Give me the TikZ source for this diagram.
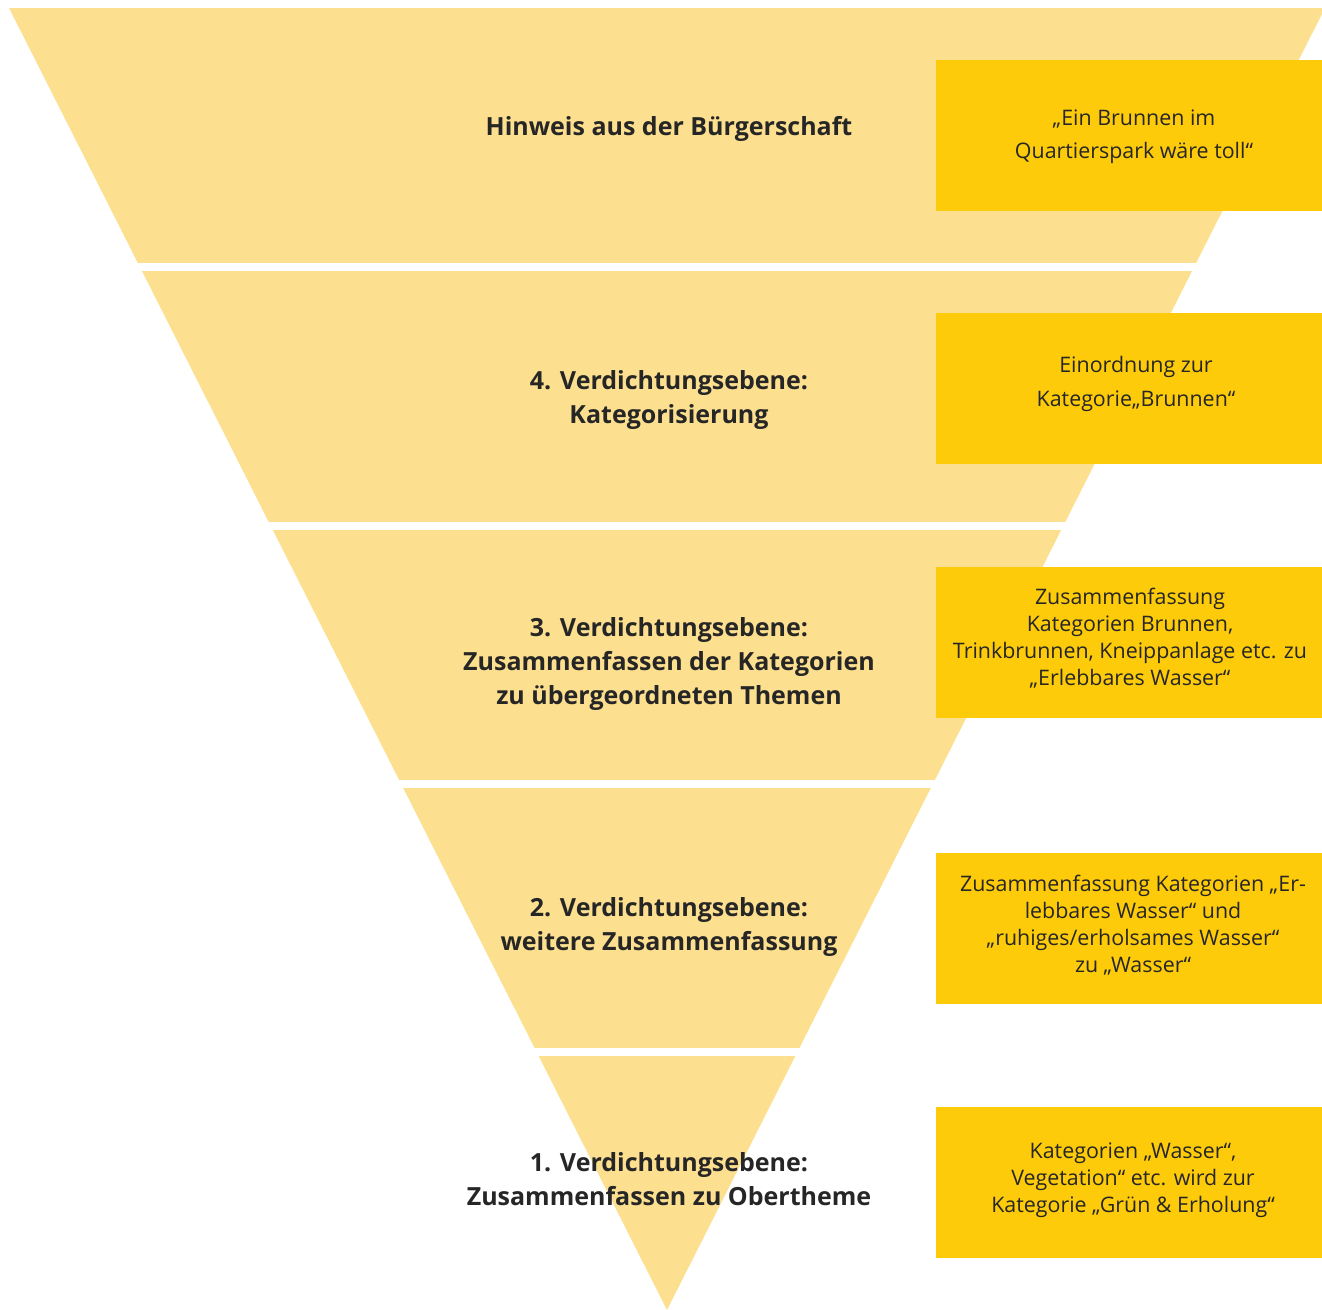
\documentclass[tikz,border=0pt]{standalone}
\usepackage{fontspec}
\setmainfont{Open Sans}
\definecolor{hellgelb}{RGB}{253,224,143}
\definecolor{gelb}{RGB}{254,203,10}
\definecolor{schrift}{RGB}{38,38,38}

\begin{document}
\begin{tikzpicture}[x=0.5pt,y=-0.5pt]
\tikzstyle{ebene}=[text=schrift,align=center,font=\bfseries\fontsize{12.5}{16.8}\selectfont]
\tikzset{kasten/.style={fill=gelb,inner sep=0pt,minimum width=193pt,minimum height=75.5pt},
  kastentext/.style={text=schrift,align=center,inner sep=0pt,font=\fontsize{10.7}{13.5}\selectfont}}
\useasboundingbox (0,0) rectangle (1322,1310);

\begin{scope}
\clip (9,8) -- (1325,8) -- (667,1310) -- cycle;
\foreach \oben/\unten in {8/263,271/522,530/780,788/1048,1056/1310}
  \fill[hellgelb] (0,\oben) rectangle (1330,\unten);
\end{scope}

\node[ebene] (E5) at (669,129) {Hinweis aus der Bürgerschaft};
\node[ebene] (E4) at (669,400) {4. Verdichtungsebene:\\Kategorisierung};
\node[ebene] (E3) at (669,664) {3. Verdichtungsebene:\\Zusammenfassen der Kategorien\\zu übergeordneten Themen};
\node[ebene] (E2) at (669,927) {2. Verdichtungsebene:\\weitere Zusammenfassung};
\node[ebene] (E1) at (669,1179) {1. Verdichtungsebene:\\Zusammenfassen zu Obertheme};

\node[kasten] (K5) at (1129,135.5) {};
\node[kasten] (K4) at (1129,388.5) {};
\node[kasten] (K3) at (1129,642.5) {};
\node[kasten] (K2) at (1129,928.5) {};
\node[kasten] (K1) at (1129,1182.5) {};

\node[kastentext] (T5) at (1134,137) {„Ein Brunnen im\\[3pt]Quartierspark wäre toll“};
\node[kastentext] (T4) at (1136,383.5) {Einordnung zur\\[3.5pt]Kategorie„Brunnen“};
\node[kastentext] (T3) at (1130,638.5) {Zusammenfassung\\Kategorien Brunnen,\\Trinkbrunnen, Kneippanlage etc. zu\\„Erlebbares Wasser“};
\node[kastentext] (T2) at (1133,925.5) {Zusammenfassung Kategorien „Er-\\lebbares Wasser“ und\\„ruhiges/erholsames Wasser“\\zu „Wasser“};
\node[kastentext] (T1) at (1133,1180) {Kategorien „Wasser“,\\Vegetation“ etc. wird zur\\Kategorie „Grün \& Erholung“};

\end{tikzpicture}
\end{document}
